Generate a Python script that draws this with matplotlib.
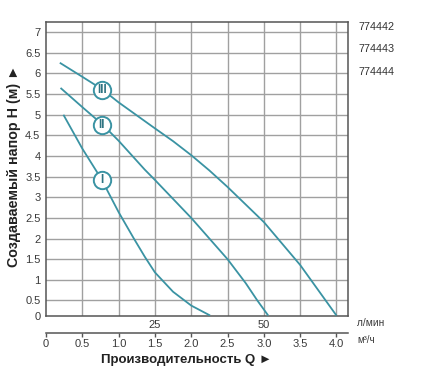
import numpy as np
import matplotlib
matplotlib.use("Agg")
import matplotlib.pyplot as plt

# ---- data ----
q_I = [0.24, 0.5, 0.76, 1.0, 1.2, 1.36, 1.5, 1.75, 2.0, 2.26]
h_I = [5.0, 4.18, 3.45, 2.64, 2.03, 1.56, 1.18, 0.71, 0.33, 0.0]

q_II = [0.2, 0.51, 0.78, 1.0, 1.36, 1.5, 2.0, 2.5, 2.75, 2.91, 3.0, 3.06]
h_II = [5.65, 5.17, 4.76, 4.37, 3.67, 3.42, 2.5, 1.5, 0.92, 0.5, 0.2, 0.0]

q_III = [0.19, 0.5, 0.77, 1.0, 1.5, 1.75, 2.0, 2.25, 2.5, 3.0, 3.5, 4.0]
h_III = [6.26, 5.92, 5.62, 5.3, 4.67, 4.36, 4.02, 3.65, 3.25, 2.40, 1.36, 0.0]

labels = ["I", "II", "III"]
label_q = [0.77, 0.77, 0.77]
label_h = [3.42, 4.74, 5.61]

model_codes = ["774442", "774443", "774444"]

y_ticks = [0, 0.5, 1, 1.5, 2, 2.5, 3, 3.5, 4, 4.5, 5, 5.5, 6, 6.5, 7]
y_ticklabels = ["0", "0.5", "1", "1.5", "2", "2.5", "3", "3.5", "4", "4.5", "5", "5.5", "6", "6.5", "7"]
m3h_ticks = [0, 0.5, 1.0, 1.5, 2.0, 2.5, 3.0, 3.5, 4.0]
m3h_labels = ["0", "0.5", "1.0", "1.5", "2.0", "2.5", "3.0", "3.5", "4.0"]
lmin_pos = [1.5, 3.0]
lmin_labels = ["25", "50"]

# ---- style ----
FONT = ["Liberation Sans", "DejaVu Sans"]
plt.rcParams["font.family"] = FONT
TEAL = "#3a93a3"
GRID = "#a0a0a0"
SPINE = "#555555"
TXT = "#3a3a3a"

W, H = 427, 381
fig = plt.figure(figsize=(W / 100, H / 100), dpi=100)
ax = fig.add_axes([46 / W, 1 - 315.5 / H, (347.7 - 46) / W, (315.5 - 21.7) / H])

# compressed lowest band, as in the reference
K = 0.73
def fwd(y):
    y = np.asarray(y, dtype=float)
    return np.where(y < 0.5, y * K, y - 0.5 + 0.5 * K)
def inv(v):
    v = np.asarray(v, dtype=float)
    return np.where(v < 0.5 * K, v / K, v + 0.5 - 0.5 * K)
ax.set_yscale("function", functions=(fwd, inv))

ax.set_xlim(0, 4.155)
ax.set_ylim(0, 7.255)

# grid
for yv in y_ticks[1:]:
    ax.axhline(yv, color=GRID, lw=1.0, zorder=1)
for xv in m3h_ticks[1:]:
    ax.axvline(xv, color=GRID, lw=1.0, zorder=1)

for q, h in [(q_I, h_I), (q_II, h_II), (q_III, h_III)]:
    ax.plot(q, h, color=TEAL, lw=1.3, zorder=3, solid_capstyle="butt", solid_joinstyle="round")

for lab, xq, yh in zip(labels, label_q, label_h):
    ax.plot([xq], [yh], marker="o", ms=12.5, mfc="white", mec=TEAL, mew=1.4, zorder=4)
    ax.text(xq, yh, lab, ha="center", va="center", fontsize=8.5, color="#2f7482",
            fontweight="bold", zorder=5, family=FONT)

for s in ax.spines.values():
    s.set_color(SPINE)
    s.set_linewidth(1.1)

ax.set_yticks(y_ticks)
ax.set_yticklabels(y_ticklabels)
ax.tick_params(axis="y", length=0, pad=4, labelsize=8, labelcolor=TXT)
ax.yaxis.set_minor_locator(matplotlib.ticker.NullLocator())

ax.set_xticks(lmin_pos)
ax.set_xticklabels(lmin_labels)
ax.tick_params(axis="x", length=0, pad=3, labelsize=8, labelcolor=TXT)

sec = ax.secondary_xaxis(-0.0585)
sec.set_xticks(m3h_ticks)
sec.set_xticklabels(m3h_labels)
sec.tick_params(axis="x", length=3, width=1, color=SPINE, pad=1.5, labelsize=8, labelcolor=TXT)
sec.spines["bottom"].set_color(SPINE)
sec.spines["bottom"].set_linewidth(1.1)

fig.text(357 / W, 1 - 323 / H, "л/мин", fontsize=7.3, color=TXT, va="center", ha="left")
fig.text(357 / W, 1 - 340 / H, "м³/ч", fontsize=7, color=TXT, va="center", ha="left")

for i, code in enumerate(model_codes):
    fig.text(359 / W, 1 - (27 + 22.5 * i) / H, code, fontsize=7.8, color="#333333",
             va="center", ha="left")

fig.text(187 / W, 1 - 360 / H, "Производительность Q ►", fontsize=9.5, fontweight="bold",
         color="#222222", ha="center", va="center")
fig.text(14 / W, 1 - 166 / H, "Создаваемый напор H (м) ►", fontsize=10.3, fontweight="bold",
         color="#222222", ha="center", va="center", rotation=90)

fig.savefig("out.png", dpi=100, facecolor="white")
